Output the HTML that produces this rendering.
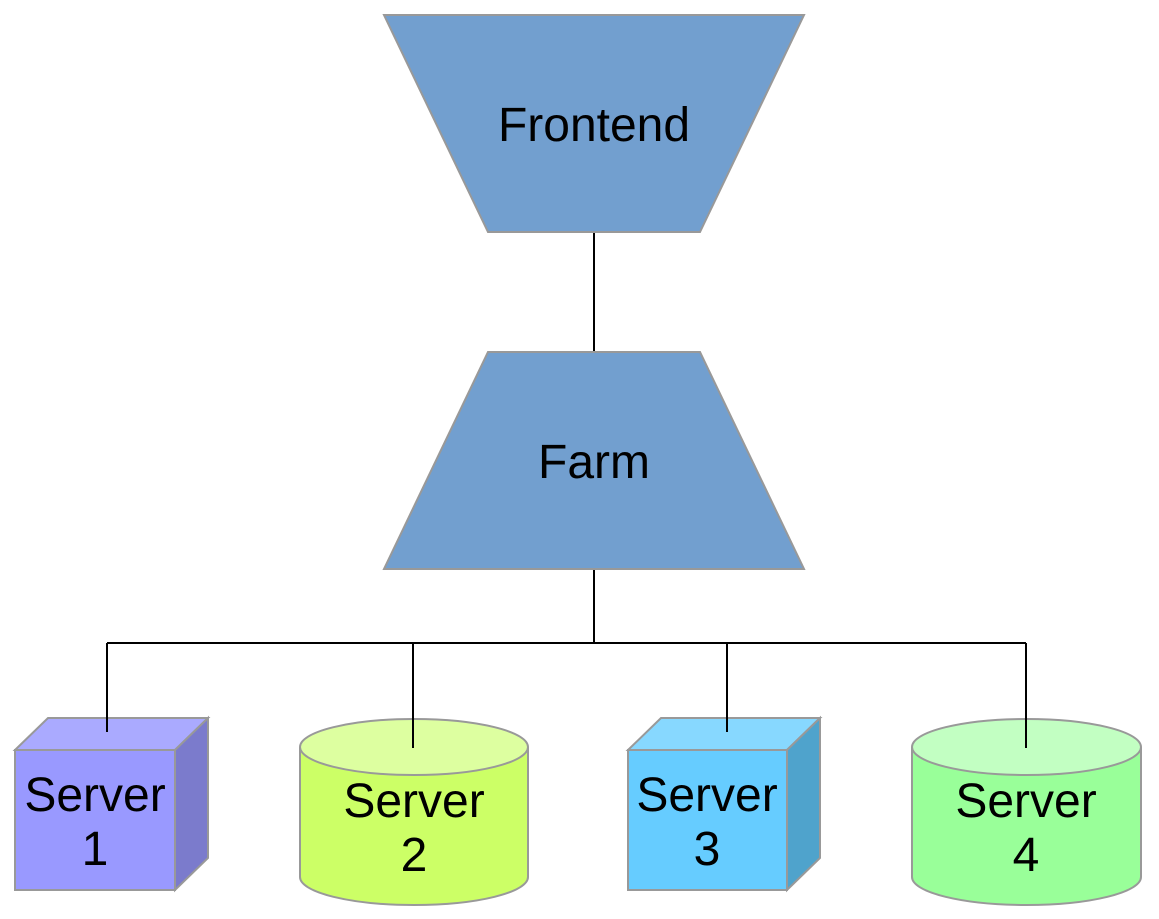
<!DOCTYPE html>
<html><head><style>body{margin:0;background:#fff}svg{display:block}</style></head><body>
<svg width="1159" height="919" viewBox="0 0 1159 919" font-family="Liberation Sans, sans-serif" font-size="48" text-anchor="middle">
<g stroke="#000" stroke-width="2" fill="none">
<line x1="594" y1="232" x2="594" y2="352"/>
<line x1="594" y1="569" x2="594" y2="643"/>
<line x1="107" y1="643" x2="1026" y2="643"/>
</g>
<g stroke="#999" stroke-width="2">
<polygon points="384,15 804,15 700,232 488,232" fill="#729fcf"/>
<polygon points="488,352 700,352 804,569 384,569" fill="#729fcf"/>
<polygon points="15,750 48,718 208,718 175,750" fill="#aaaaff"/>
<polygon points="175,750 208,718 208,858 175,890" fill="#7b7bcc"/>
<rect x="15" y="750" width="160" height="140" fill="#9999ff"/>
<path d="M300,747 L300,877 A114,28 0 0 0 528,877 L528,747" fill="#ccff66"/>
<ellipse cx="414" cy="747" rx="114" ry="28" fill="#ddffa0"/>
<polygon points="628,750 661,718 820,718 787,750" fill="#87d8ff"/>
<polygon points="787,750 820,718 820,858 787,890" fill="#4fa3cc"/>
<rect x="628" y="750" width="159" height="140" fill="#66ccff"/>
<path d="M912,747 L912,877 A114.5,28 0 0 0 1141,877 L1141,747" fill="#99ff99"/>
<ellipse cx="1026.5" cy="747" rx="114.5" ry="28" fill="#c2ffc2"/>
</g>
<g stroke="#000" stroke-width="2">
<line x1="107" y1="643" x2="107" y2="732"/>
<line x1="413" y1="643" x2="413" y2="748"/>
<line x1="727" y1="643" x2="727" y2="732"/>
<line x1="1026" y1="643" x2="1026" y2="748"/>
</g>
<g fill="#000">
<text x="594" y="141">Frontend</text>
<text x="594" y="478">Farm</text>
<text x="95" y="811">Server</text><text x="95" y="865">1</text>
<text x="414" y="817">Server</text><text x="414" y="871">2</text>
<text x="707" y="811">Server</text><text x="707" y="865">3</text>
<text x="1026" y="817">Server</text><text x="1026" y="871">4</text>
</g>
</svg>
</body></html>
